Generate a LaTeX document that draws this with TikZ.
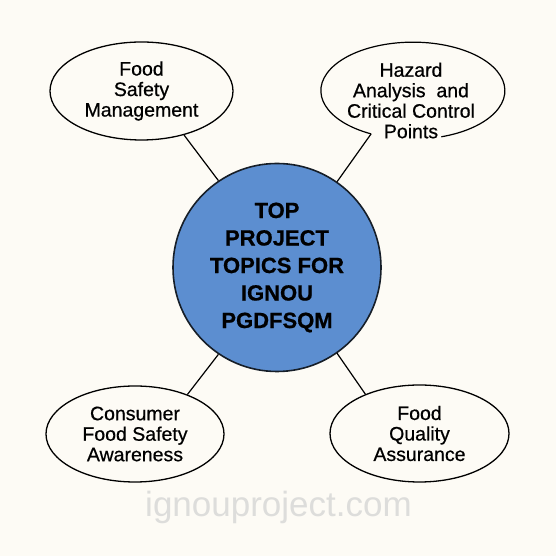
\documentclass[tikz,border=0pt]{standalone}
\usepackage{fontspec}
\setmainfont{Liberation Sans}
\newfontfamily\topicfont{Liberation Sans}[FakeBold=0.6]
\newfontfamily\hubfont{Liberation Sans Bold}[FakeBold=0.7]
\usetikzlibrary{shapes.geometric}

\definecolor{paper}{RGB}{253,251,245}
\definecolor{topicblue}{RGB}{92,142,208}
\definecolor{rim}{RGB}{22,30,40}
\definecolor{wmgray}{RGB}{221,221,219}

\tikzset{
	topic/.style={ellipse,draw=black,line width=1.3pt,fill=paper,inner sep=0pt,align=center,font=\topicfont\fontsize{19.5}{20.5}\selectfont},
	hub/.style={circle,draw=rim,line width=1.6pt,fill=topicblue,minimum size=208pt,inner sep=0pt,align=center,font=\hubfont\fontsize{22}{27.5}\selectfont},
	link/.style={line width=1.2pt}
}

\begin{document}
\begin{tikzpicture}[x=1pt,y=1pt]
	\fill[paper] (0,0) rectangle (556,556);
	\useasboundingbox (0,0) rectangle (556,556);

	\node[hub] (hub) at (277,288.5) {TOP\\PROJECT\\TOPICS FOR\\IGNOU\\PGDFSQM};
	\node[topic,minimum width=183pt,minimum height=98pt] (fsm) at (141.5,465) {Food\\Safety\\Management};
	\node[topic,minimum width=178pt,minimum height=96pt] (cfsa) at (135,122) {Consumer\\Food Safety\\Awareness};
	\node[topic,minimum width=179pt,minimum height=97pt] (fqa) at (419.5,122.5) {Food\\Quality\\Assurance};

	% speech bubble, open at the bottom
	\node[ellipse,minimum width=184pt,minimum height=97pt,inner sep=0pt] (haccp) at (413,465.5) {};
	\node[align=center,font=\topicfont\fontsize{19.5}{20.5}\selectfont] (haccptext) at (411,455.5) {Hazard\\Analysis\ \ and\\Critical Control\\Points};
	\draw[link] (haccp.226) arc[start angle=243,end angle=-72,x radius=92,y radius=48.5];

	\draw[link] (hub.124) -- (fsm.-46);
	\draw[link] (hub.55) -- (haccp.226);
	\draw[link] (hub.236) -- (cfsa.37);
	\draw[link] (hub.305) -- (fqa.144);

	\node[anchor=base,text=wmgray,font=\fontsize{35}{40}\selectfont] (site) at (278.5,39) {ignouproject.com};
\end{tikzpicture}
\end{document}
